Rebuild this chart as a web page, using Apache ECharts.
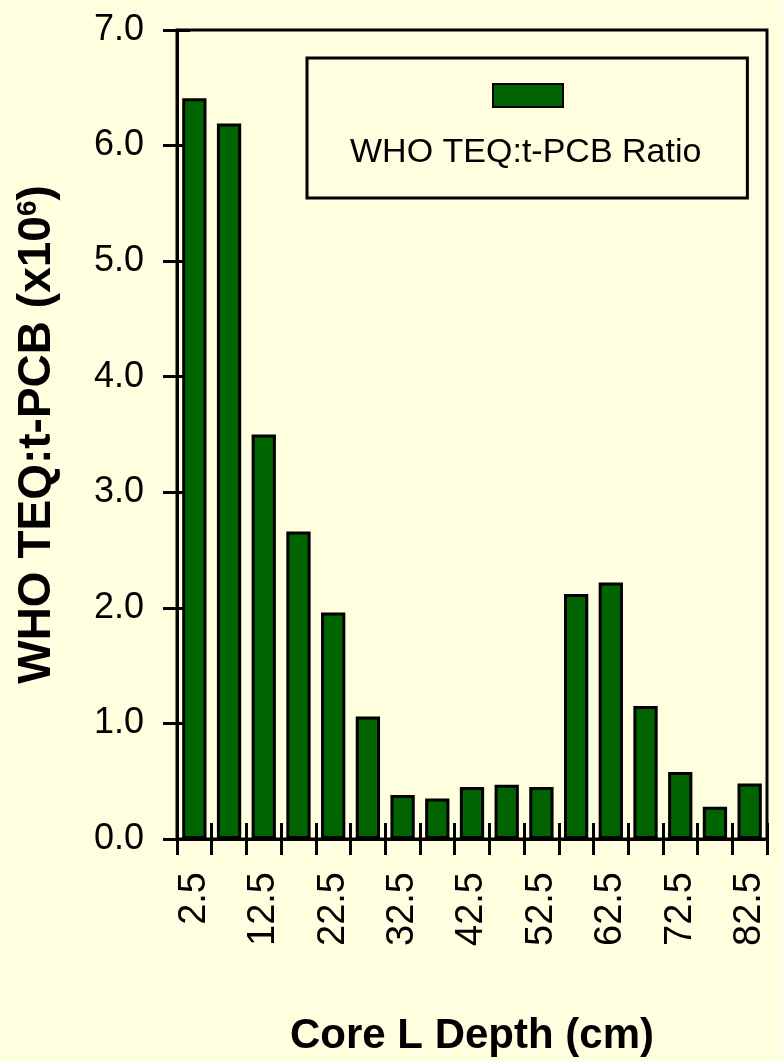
<!DOCTYPE html>
<html>
<head>
<meta charset="utf-8">
<script src="https://cdn.jsdelivr.net/npm/echarts@6/dist/echarts.min.js"></script>
<style>
html,body{margin:0;padding:0;background:#FFFFE0;}
#chart{width:783px;height:1062px;}
</style>
</head>
<body>
<div id="chart"></div>
<script>
const depths = ['2.5','7.5','12.5','17.5','22.5','27.5','32.5','37.5','42.5','47.5','52.5','57.5','62.5','67.5','72.5','77.5','82.5'];
const ratio = [6.41, 6.19, 3.50, 2.66, 1.96, 1.06, 0.38, 0.35, 0.45, 0.47, 0.45, 2.12, 2.22, 1.15, 0.58, 0.28, 0.48];
const seriesName = 'WHO TEQ:t-PCB Ratio';
const yTitle = 'WHO TEQ:t-PCB (x10{s|6})';
const xTitle = 'Core L Depth (cm)';

const FONT = '"Liberation Sans", Arial, sans-serif';
const chart = echarts.init(document.getElementById('chart'), null, {renderer: 'canvas'});
chart.setOption({
  backgroundColor: '#FFFFE0',
  animation: false,
  grid: {left: 177, right: 16, top: 30, bottom: 223, show: true, borderColor: '#000', borderWidth: 3, backgroundColor: 'transparent'},
  legend: [
    {
      data: [{name: seriesName, icon: 'none'}],
      left: 307, top: 58,
      itemWidth: 1, itemHeight: 1, itemGap: 0,
      padding: [78, 46, 28, 37],
      borderColor: '#000', borderWidth: 3,
      textStyle: {fontSize: 34, fontFamily: FONT, color: '#000'},
      selectedMode: false
    },
    {
      data: [{name: seriesName, icon: 'rect'}],
      left: 492, top: 83,
      itemWidth: 70, itemHeight: 23,
      padding: 0,
      formatter: function () { return ''; },
      selectedMode: false
    }
  ],
  xAxis: [
    {
      type: 'category', data: depths, position: 'bottom',
      axisLine: {show: true, lineStyle: {color: '#000', width: 3}},
      axisTick: {show: true, inside: true, length: 16, interval: 0, lineStyle: {color: '#000', width: 3}},
      axisLabel: {interval: 1, rotate: 90, margin: 33, fontSize: 38, fontFamily: FONT, color: '#000'},
      splitLine: {show: false},
      name: xTitle, nameLocation: 'middle', nameGap: 176,
      nameTextStyle: {fontSize: 42, fontWeight: 'bold', fontFamily: FONT, color: '#000'}
    },
    {
      type: 'category', data: depths, position: 'bottom',
      axisLine: {show: false},
      axisTick: {show: true, inside: false, length: 16, interval: 0, lineStyle: {color: '#000', width: 3}},
      axisLabel: {show: false},
      splitLine: {show: false}
    }
  ],
  yAxis: [
    {
      type: 'value', min: 0, max: 7, interval: 1, position: 'left',
      axisLine: {show: true, lineStyle: {color: '#000', width: 3}},
      axisTick: {show: true, inside: true, length: 13, lineStyle: {color: '#000', width: 3}},
      axisLabel: {margin: 33, fontSize: 36, fontFamily: FONT, color: '#000', formatter: function (v) { return v.toFixed(1); }},
      splitLine: {show: false},
      name: yTitle, nameLocation: 'middle', nameGap: 117,
      nameTextStyle: {fontSize: 46, fontWeight: 'bold', fontFamily: FONT, color: '#000',
        rich: {s: {fontSize: 28, fontWeight: 'bold', fontFamily: FONT, color: '#000', verticalAlign: 'top', padding: [0, 0, 18, 0]}}}
    },
    {
      type: 'value', min: 0, max: 7, interval: 1, position: 'left',
      axisLine: {show: false},
      axisTick: {show: true, inside: false, length: 14, lineStyle: {color: '#000', width: 3}},
      axisLabel: {show: false},
      splitLine: {show: false}
    }
  ],
  series: [{
    name: seriesName, type: 'bar', xAxisIndex: 0, yAxisIndex: 0,
    data: ratio, barWidth: '70%',
    itemStyle: {color: '#006400', borderColor: '#000', borderWidth: 3}
  }]
});
</script>
</body>
</html>
